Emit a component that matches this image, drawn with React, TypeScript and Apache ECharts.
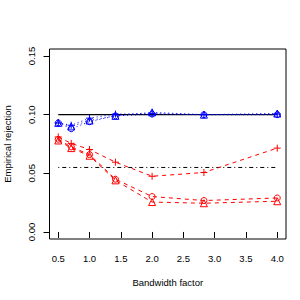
import React, { useEffect, useRef } from "react";
import * as echarts from "echarts";

const bandwidth = [0.5, 0.707, 1.0, 1.414, 2.0, 2.828, 4.0];
const xTicks = [0.5, 1.0, 1.5, 2.0, 2.5, 3.0, 3.5, 4.0];
const yTicks = [0.0, 0.05, 0.1, 0.15];

const blueTriangle = [0.093, 0.09, 0.095, 0.099, 0.102, 0.1, 0.101];
const blueCircle = [0.093, 0.088, 0.094, 0.099, 0.1005, 0.1, 0.1];
const bluePlus = [0.093, 0.091, 0.097, 0.1005, 0.101, 0.1, 0.1005];

const redPlus = [0.081, 0.0755, 0.0703, 0.0595, 0.0475, 0.0507, 0.0715];
const redCircle = [0.079, 0.0725, 0.066, 0.045, 0.0302, 0.0268, 0.029];
const redTriangle = [0.078, 0.0715, 0.065, 0.044, 0.0255, 0.0245, 0.0262];

const nominalLevel = 0.1;
const lowerBound = 0.055;

const CIRCLE = "path://M5,0A5,5 0 1,1 4.999,0Z";
const TRIANGLE = "path://M5,0L10,8.66L0,8.66Z";
const PLUS = "path://M0,5L10,5M5,0L5,10";

const FONT = "'Liberation Sans', Arial, sans-serif";
const FS = 9.5;

function mk(name: string, vals: number[], color: string, symbol: string, size: number, dash: number[]) {
  return {
    name,
    type: "line",
    data: bandwidth.map((x, i) => [x, vals[i]]),
    symbol,
    symbolSize: size,
    itemStyle: { color: "transparent", borderColor: color, borderWidth: 1 },
    lineStyle: { color, width: 1, type: dash },
    z: 3,
  };
}

export default function App() {
  const ref = useRef<HTMLDivElement>(null);
  useEffect(() => {
    if (!ref.current) return;
    const chart = echarts.init(ref.current, undefined, { renderer: "svg" });
    chart.setOption({
      animation: false,
      backgroundColor: "#fff",
      textStyle: { fontFamily: FONT },
      grid: {
        left: 49.5,
        right: 14,
        top: 49,
        bottom: 61,
        show: true,
        borderColor: "#000",
        borderWidth: 1,
        backgroundColor: "transparent",
        containLabel: false,
        outerBoundsMode: "none",
      },
      xAxis: {
        type: "value",
        min: 0.36,
        max: 4.14,
        name: "Bandwidth factor",
        nameLocation: "middle",
        nameGap: 38,
        nameTextStyle: { color: "#000", fontSize: FS, fontFamily: FONT },
        axisLine: { show: false },
        splitLine: { show: false },
        axisTick: {
          show: true,
          customValues: xTicks,
          length: 6,
          lineStyle: { color: "#000", width: 1 },
        },
        axisLabel: {
          customValues: xTicks,
          formatter: (v: number) => v.toFixed(1),
          color: "#000",
          fontSize: FS,
          fontFamily: FONT,
          margin: 14,
        },
      },
      yAxis: {
        type: "value",
        min: -0.006,
        max: 0.156,
        name: "Empirical rejection",
        nameLocation: "middle",
        nameGap: 37,
        nameTextStyle: { color: "#000", fontSize: FS, fontFamily: FONT },
        axisLine: { show: false },
        splitLine: { show: false },
        axisTick: {
          show: true,
          customValues: yTicks,
          length: 6,
          lineStyle: { color: "#000", width: 1 },
        },
        axisLabel: {
          customValues: yTicks,
          formatter: (v: number) => v.toFixed(2),
          rotate: 90,
          color: "#000",
          fontSize: FS,
          fontFamily: FONT,
          margin: 13,
        },
      },
      series: [
        {
          name: "nominal",
          type: "line",
          data: [
            [bandwidth[0], nominalLevel],
            [bandwidth[bandwidth.length - 1], nominalLevel],
          ],
          symbol: "none",
          lineStyle: { color: "#000", width: 1.3, type: "solid" },
          z: 2,
        },
        {
          name: "bound",
          type: "line",
          data: [
            [bandwidth[0], lowerBound],
            [bandwidth[bandwidth.length - 1], lowerBound],
          ],
          symbol: "none",
          lineStyle: { color: "#000", width: 1, type: [1, 3, 4, 3] },
          z: 2,
        },
        mk("blueTri", blueTriangle, "#0000ff", TRIANGLE, 7, [1, 3]),
        mk("blueCirc", blueCircle, "#0000ff", CIRCLE, 6, [1, 3]),
        mk("bluePlus", bluePlus, "#0000ff", PLUS, 7, [1, 3]),
        mk("redTri", redTriangle, "#ff0000", TRIANGLE, 7, [4, 4]),
        mk("redCirc", redCircle, "#ff0000", CIRCLE, 6, [4, 4]),
        mk("redPlus", redPlus, "#ff0000", PLUS, 7, [4, 4]),
      ],
    });
    return () => chart.dispose();
  }, []);
  return (
    <div
      ref={ref}
      style={{ position: "fixed", left: 0, top: 0, width: 300, height: 300 }}
    />
  );
}
